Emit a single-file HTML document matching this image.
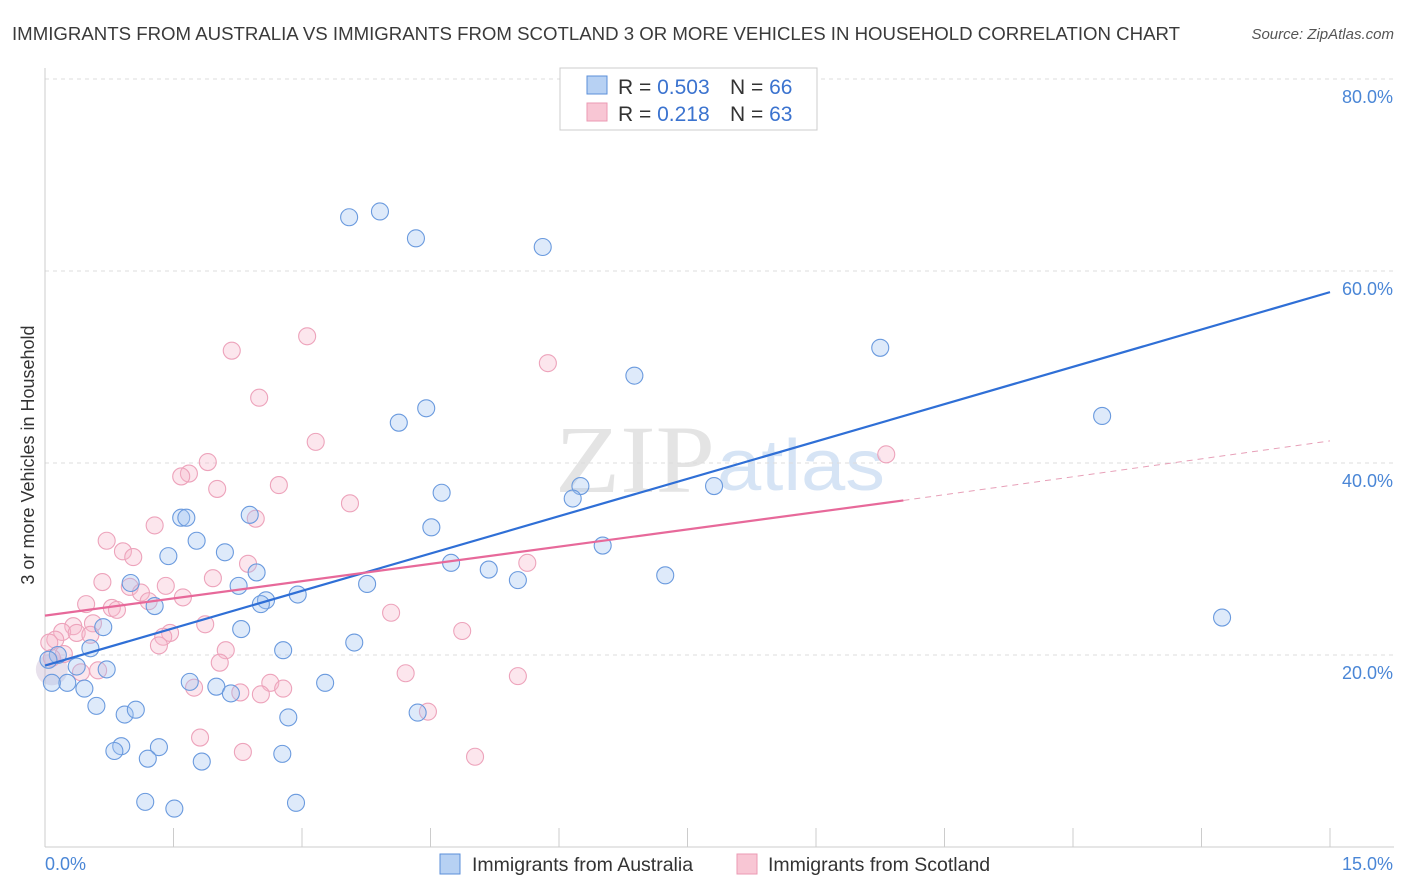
<!DOCTYPE html>
<html><head><meta charset="utf-8"><style>
body{margin:0;background:#fff;font-family:"Liberation Sans",sans-serif}
svg{display:block}
</style></head><body>
<svg id="chart" width="1406" height="892">
<text x="12" y="40" font-size="18" fill="#3a3a3a" textLength="1168" lengthAdjust="spacingAndGlyphs">IMMIGRANTS FROM AUSTRALIA VS IMMIGRANTS FROM SCOTLAND 3 OR MORE VEHICLES IN HOUSEHOLD CORRELATION CHART</text>
<text x="1394" y="39" font-size="15" font-style="italic" fill="#555" text-anchor="end">Source: ZipAtlas.com</text>
<text x="555" y="492" font-size="96" font-family="Liberation Serif,serif" fill="#e4e4e4" textLength="160" lengthAdjust="spacingAndGlyphs">ZIP</text>
<text x="717" y="490" font-size="72" fill="#d6e4f5" textLength="168" lengthAdjust="spacingAndGlyphs">atlas</text>
<g id="grid"></g><g id="axes"></g><g id="pts"></g><g id="lines"></g>
<text transform="translate(34,455) rotate(-90)" font-size="18" fill="#333" text-anchor="middle">3 or more Vehicles in Household</text>
<g>
<rect x="560" y="68" width="257" height="62" fill="#fff" stroke="#ccc"/>
<rect x="587" y="76" width="20" height="18" fill="#b7d1f3" stroke="#5b8fd9"/>
<rect x="587" y="103" width="20" height="18" fill="#f8c6d4" stroke="#eb9ab3"/>
<text x="618" y="94" font-size="21" fill="#333">R = <tspan fill="#3b73cf">0.503</tspan></text>
<text x="730" y="94" font-size="21" fill="#333">N = <tspan fill="#3b73cf">66</tspan></text>
<text x="618" y="121" font-size="21" fill="#333">R = <tspan fill="#3b73cf"> 0.218</tspan></text>
<text x="730" y="121" font-size="21" fill="#333">N = <tspan fill="#3b73cf">63</tspan></text>
</g>
<g>
<rect x="440" y="854" width="20" height="20" fill="#b7d1f3" stroke="#5b8fd9"/>
<text x="472" y="871" font-size="19.5" fill="#333">Immigrants from Australia</text>
<rect x="737" y="854" width="20" height="20" fill="#f8c6d4" stroke="#eb9ab3"/>
<text x="768" y="871" font-size="19.5" fill="#333">Immigrants from Scotland</text>
</g>
</svg>
<script>
const blueX=[3.55,3.91,4.33,5.81,9.75,6.88,12.34,4.45,4.13,4.63,6.25,6.16,7.81,4.51,6.51,4.74,5.18,5.52,7.24,3.76,13.74,1.59,1.65,1.77,1.44,2.10,2.39,2.47,2.26,1.00,1.28,2.58,2.52,2.95,0.68,2.29,3.61,2.78,0.53,0.15,0.04,0.37,0.72,0.26,0.08,0.46,1.69,2.00,2.17,3.27,0.60,0.93,1.06,2.84,4.35,0.89,0.81,1.33,1.20,1.83,2.77,1.17,1.51,2.93];
const blueY=[65.6,66.2,63.4,62.5,52.0,49.1,44.9,45.7,44.2,36.9,37.6,36.3,37.6,33.3,31.4,29.6,28.9,27.8,28.3,27.4,23.9,34.3,34.3,31.9,30.3,30.7,34.6,28.6,27.2,27.5,25.1,25.7,25.3,26.3,22.9,22.7,21.3,20.5,20.7,20.0,19.5,18.8,18.5,17.1,17.1,16.5,17.2,16.7,16.0,17.1,14.7,13.8,14.3,13.5,14.0,10.5,10.0,10.4,9.2,8.9,9.7,4.7,4.0,4.6];
const pinkX=[3.06,2.18,5.87,2.50,3.16,9.82,1.90,1.68,1.59,2.01,2.73,3.56,2.46,1.28,0.72,0.91,1.03,0.67,2.37,1.96,1.41,0.99,1.12,1.61,1.21,0.78,0.84,0.48,0.56,4.04,0.33,0.20,0.37,0.53,0.12,0.05,4.87,1.46,1.38,1.33,1.87,2.11,2.04,0.22,0.08,0.42,0.62,5.63,4.21,5.52,1.74,2.63,2.78,2.52,2.28,4.47,1.81,2.31,5.02];
const pinkY=[53.2,51.7,50.4,46.8,42.2,40.9,40.1,38.9,38.6,37.3,37.7,35.8,34.2,33.5,31.9,30.8,30.2,27.6,29.5,28.0,27.2,27.1,26.5,26.0,25.6,24.9,24.7,25.3,23.3,24.4,23.0,22.4,22.3,22.1,21.6,21.3,22.5,22.3,21.9,21.0,23.2,20.5,19.2,20.1,19.7,18.2,18.4,29.6,18.1,17.8,16.6,17.1,16.5,15.9,16.1,14.1,11.4,9.9,9.4];
const yTicks=[20,40,60,80];
const xTickCount=[0,1.5,3,4.5,6,7.5,9,10.5,12,13.5,15];
const blueTrend=[18.9,57.8];
const pinkTrend=[24.1,36.1,42.3];
const pinkSolidEnd=10.02;
const NS='http://www.w3.org/2000/svg';
const X=v=>45+v/15*1285, Y=v=>847-v*9.6;
function mk(t,a,p){const e=document.createElementNS(NS,t);for(const k in a)e.setAttribute(k,a[k]);p.appendChild(e);return e;}
const grid=document.getElementById('grid'),axes=document.getElementById('axes'),pts=document.getElementById('pts'),lines=document.getElementById('lines');
yTicks.forEach(t=>{
 const l=mk('line',{x1:45,x2:1394,y1:Y(t),y2:Y(t),stroke:'#ddd','stroke-dasharray':'4,4'},grid);
 
 
 const tx=mk('text',{x:1393,y:Y(t)+24,'font-size':18,fill:'#4a86d6','text-anchor':'end'},axes);
 tx.textContent=t.toFixed(1)+'%';
 
 
});
mk('line',{x1:45,x2:45,y1:68,y2:847,stroke:'#ccc'},axes);
mk('line',{x1:45,x2:1394,y1:847,y2:847,stroke:'#ccc'},axes);
xTickCount.forEach(t=>{const l=mk('line',{x1:X(t),x2:X(t),y1:828,y2:847,stroke:'#ccc'},axes);
 
 });
let a=mk('text',{x:45,y:870,'font-size':18,fill:'#4a86d6'},axes);a.textContent='0.0%';


a=mk('text',{x:1393,y:870,'font-size':18,fill:'#4a86d6','text-anchor':'end'},axes);a.textContent='15.0%';


let big=mk('circle',{cx:X(0.08),cy:Y(18.5),r:16,fill:'rgba(190,170,200,0.35)'},pts);


pinkX.forEach((x,i)=>{const c=mk('circle',{cx:X(x),cy:Y(pinkY[i]),r:8.5,fill:'rgba(246,182,202,0.35)',stroke:'#eda3bb','stroke-width':1.1},pts);
 
 });
blueX.forEach((x,i)=>{const c=mk('circle',{cx:X(x),cy:Y(blueY[i]),r:8.5,fill:'rgba(160,196,240,0.35)',stroke:'#6a9ade','stroke-width':1.1},pts);
 
 });
let l=mk('line',{x1:X(0),y1:Y(blueTrend[0]),x2:X(15),y2:Y(blueTrend[1]),stroke:'#2f6fd6','stroke-width':2.2},lines);


l=mk('line',{x1:X(0),y1:Y(pinkTrend[0]),x2:X(pinkSolidEnd),y2:Y(pinkTrend[1]),stroke:'#e7699a','stroke-width':2.2},lines);


l=mk('line',{x1:X(pinkSolidEnd),y1:Y(pinkTrend[1]),x2:X(15),y2:Y(pinkTrend[2]),stroke:'#e7a0b8','stroke-width':1,'stroke-dasharray':'6,5'},lines);


</script>
</body></html>
